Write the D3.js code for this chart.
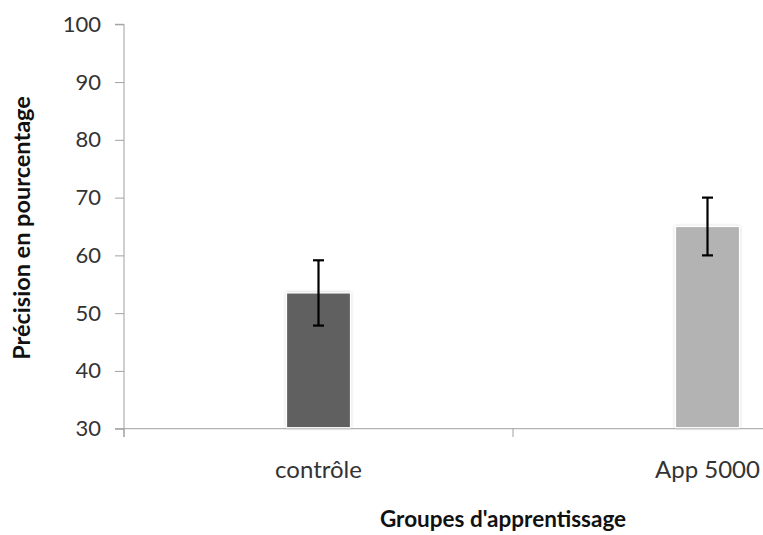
<!DOCTYPE html>
<html><head><meta charset="utf-8">
<script src="https://cdn.jsdelivr.net/npm/d3@7"></script>
<style>body{margin:0;background:#fff}svg{display:block}</style>
</head><body>
<script>
const categories = ["contrôle", "App 5000"];
const means = [53.5, 65.0];
const errors = [5.65, 5.0];
const barColors = ["#606060", "#b3b3b3"];
const yTicks = [30, 40, 50, 60, 70, 80, 90, 100];
const yTitle = "Précision en pourcentage";
const xTitle = "Groupes d'apprentissage";

(function () {
const W = 763, H = 535;
const svg = d3.select("body").append("svg").attr("width", W).attr("height", H);
const pL = 124, pR = 902, pT = 24.3, pB = 428.7;
const x = d3.scaleBand().domain(categories).range([pL, pR]);
const y = d3.scaleLinear().domain([30, 100]).range([pB, pT]);
const font = "Lato, 'Open Sans', sans-serif";

const defs = svg.append("defs");
const f = defs.append("filter").attr("id","sh").attr("x","-20%").attr("y","-5%").attr("width","140%").attr("height","110%");
f.append("feGaussianBlur").attr("in","SourceAlpha").attr("stdDeviation",1.5).attr("result","b");
f.append("feComponentTransfer").attr("in","b").attr("result","c").append("feFuncA").attr("type","linear").attr("slope",0.25);
const m = f.append("feMerge"); m.append("feMergeNode").attr("in","c"); m.append("feMergeNode").attr("in","SourceGraphic");

// y axis
const yAxis = d3.axisLeft(y).tickValues(yTicks).tickSize(9).tickPadding(14);
const gy = svg.append("g").attr("transform", `translate(${pL},0)`).call(yAxis);
gy.select(".domain").attr("stroke", "#a0a0a0").attr("d", `M-9,${pT}H0V${pB + 8.3}`);
gy.selectAll(".tick line").attr("stroke", "#a0a0a0");
gy.selectAll(".tick text").attr("font-family", font).attr("font-size", 22).attr("fill", "#333");

// x axis
const xAxis = d3.axisBottom(x).tickValues([]).tickSize(0);
const gx = svg.append("g").attr("transform", `translate(0,${pB})`).call(xAxis);
gx.select(".domain").attr("stroke", "#a0a0a0").attr("d", `M${pL - 9},0H${pR}`);
const bounds = [pL, ...categories.map(c => x(c) + x.bandwidth())];
gx.selectAll("line.bt").data(bounds).join("line").attr("class","bt")
  .attr("x1", d => d).attr("x2", d => d).attr("y1", 0).attr("y2", 8.3).attr("stroke", "#a0a0a0");
gx.selectAll("text.cl").data(categories).join("text").attr("class","cl")
  .attr("x", d => x(d) + x.bandwidth() / 2).attr("y", 49.3)
  .attr("text-anchor", "middle").attr("font-family", font).attr("font-size", 24).attr("fill", "#333")
  .text(d => d);

// bars
const bw = 64;
svg.append("g").selectAll("rect").data(categories).join("rect")
  .attr("x", d => x(d) + x.bandwidth() / 2 - bw / 2)
  .attr("y", (d, i) => y(means[i]))
  .attr("width", bw)
  .attr("height", (d, i) => y(30) - y(means[i]) - 1)
  .attr("fill", (d, i) => barColors[i])
  .attr("stroke", "#fff").attr("stroke-width", 1.2)
  .attr("filter", "url(#sh)");

// error bars
const eg = svg.append("g").attr("stroke", "#000").attr("stroke-width", 2.2);
categories.forEach((c, i) => {
  const cx = x(c) + x.bandwidth() / 2;
  const y1 = y(means[i] + errors[i]), y2 = y(means[i] - errors[i]);
  eg.append("line").attr("x1", cx).attr("x2", cx).attr("y1", y1).attr("y2", y2);
  eg.append("line").attr("x1", cx - 5.5).attr("x2", cx + 5.5).attr("y1", y1).attr("y2", y1);
  eg.append("line").attr("x1", cx - 5.5).attr("x2", cx + 5.5).attr("y1", y2).attr("y2", y2);
});

// titles
svg.append("text").attr("transform", `translate(30,228) rotate(-90)`)
  .attr("text-anchor", "middle").attr("font-family", font).attr("font-weight", "bold")
  .attr("font-size", 23.5).attr("fill", "#111").text(yTitle);
svg.append("text").attr("x", 503).attr("y", 527)
  .attr("text-anchor", "middle").attr("font-family", font).attr("font-weight", "bold")
  .attr("font-size", 22.5).attr("fill", "#111").text(xTitle);
})();
</script>
</body></html>
